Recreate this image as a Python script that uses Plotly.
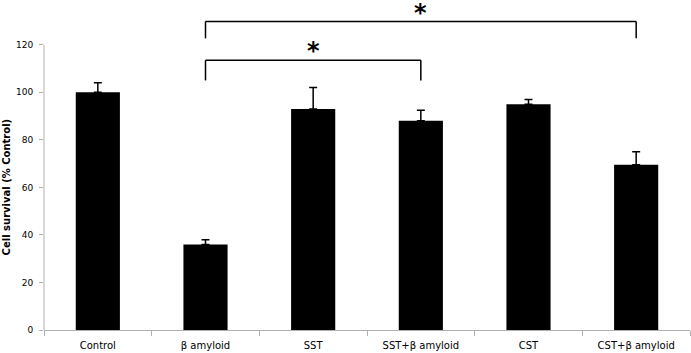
import plotly.graph_objects as go

categories = ["Control", "β amyloid", "SST", "SST+β amyloid", "CST", "CST+β amyloid"]
values = [100, 36, 93, 88, 95, 69.5]
errors = [4, 2, 9, 4.5, 2, 5.5]
yticks = [0, 20, 40, 60, 80, 100, 120]
y_title = "Cell survival (% Control)"

# significance brackets: (from category, to category, bracket top, leg bottom, star y)
brackets = [
    ("β amyloid", "SST+β amyloid", 113.5, 105, 117.3),
    ("β amyloid", "CST+β amyloid", 129.8, 122.7, 133.2),
]

fig = go.Figure()
fig.add_trace(go.Bar(
    x=categories, y=values, width=0.41,
    marker=dict(color="black", line=dict(width=0)),
    error_y=dict(type="data", array=errors, arrayminus=[0]*len(errors),
                 symmetric=False, color="black", thickness=1.5, width=4),
    showlegend=False,
))

shapes = []
annotations = []
for a, b, top, bottom, sy in brackets:
    shapes.append(dict(type="line", xref="x", yref="y", x0=a, x1=a, y0=bottom, y1=top,
                       line=dict(color="black", width=1.5)))
    shapes.append(dict(type="line", xref="x", yref="y", x0=a, x1=b, y0=top, y1=top,
                       line=dict(color="black", width=1.5)))
    shapes.append(dict(type="line", xref="x", yref="y", x0=b, x1=b, y0=bottom, y1=top,
                       line=dict(color="black", width=1.5)))
    ia, ib = categories.index(a), categories.index(b)
    annotations.append(dict(x=(ia + ib) / 2, y=sy, xref="x", yref="y", text="<b>*</b>",
                            showarrow=False, font=dict(size=24, color="black",
                                                       family="DejaVu Sans"),
                            yanchor="middle", borderpad=0))
# y-axis title centred on the ticked range
annotations.append(dict(x=0, xref="paper", xshift=-38, y=(yticks[0] + yticks[-1]) / 2,
                        yref="y", text="<b>" + y_title + "</b>", textangle=-90,
                        showarrow=False, font=dict(size=10, color="black",
                                                   family="DejaVu Sans"),
                        xanchor="center", yanchor="middle"))
# y-axis line only from 0 to 120
shapes.append(dict(type="line", xref="paper", yref="y", x0=0, x1=0, y0=0, y1=yticks[-1],
                   line=dict(color="#b0b0b0", width=1)))

fig.update_layout(
    width=691, height=353,
    margin=dict(l=44, r=1, t=2, b=23),
    paper_bgcolor="white", plot_bgcolor="white",
    font=dict(family="DejaVu Sans", color="black", size=10),
    bargap=0.59,
    shapes=shapes, annotations=annotations,
    xaxis=dict(type="category", showline=True, linecolor="#b0b0b0", linewidth=1,
               ticks="outside", tickson="boundaries", ticklen=5, tickcolor="#b0b0b0",
               tickfont=dict(size=10), showgrid=False, automargin=False,
               ticklabelstandoff=6),
    yaxis=dict(range=[0, 138], tickvals=yticks, showline=False, showgrid=False,
               zeroline=False, ticks="outside", ticklen=4, tickcolor="#b0b0b0",
               tickfont=dict(size=9, family="DejaVu Sans"),
               tickprefix="<b>", ticksuffix="</b>", automargin=False,
               ticklabelstandoff=4),
)
fig.write_html("out.html")
